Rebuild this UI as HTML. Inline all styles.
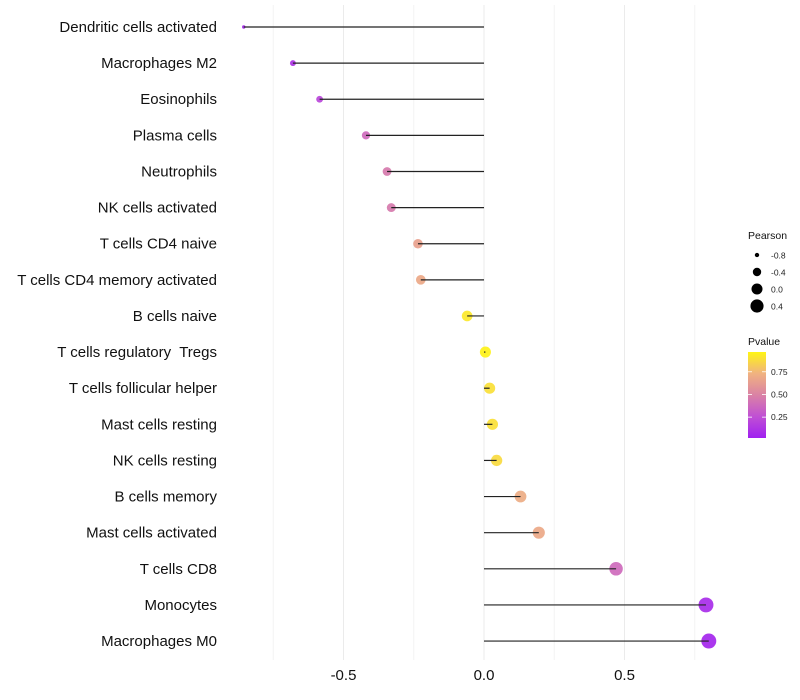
<!DOCTYPE html>
<html><head><meta charset="utf-8"><style>
body{margin:0;background:#fff;}
svg{display:block;font-family:"Liberation Sans",sans-serif;}
text{white-space:pre;}
</style></head><body>
<svg id="chart" width="800" height="700">
<g id="grid"></g>
<g id="marks"></g>
<g id="ylabels"></g>
<g id="xlabels"></g>
<g id="legend"></g>
</svg>
<script>
const categories=["Dendritic cells activated","Macrophages M2","Eosinophils","Plasma cells","Neutrophils","NK cells activated","T cells CD4 naive","T cells CD4 memory activated","B cells naive","T cells regulatory  Tregs","T cells follicular helper","Mast cells resting","NK cells resting","B cells memory","Mast cells activated","T cells CD8","Monocytes","Macrophages M0"];
const pearson=[-0.855,-0.68,-0.585,-0.42,-0.345,-0.33,-0.235,-0.225,-0.06,0.005,0.02,0.03,0.045,0.13,0.195,0.47,0.79,0.80];
const pvalue=[0.04,0.1,0.2,0.38,0.46,0.46,0.66,0.7,0.95,0.99,0.92,0.92,0.9,0.72,0.7,0.38,0.06,0.03];
const xTicks=[-0.5,0,0.5];
const xTickLabels=["-0.5","0.0","0.5"];
const sizeBreaks=[-0.8,-0.4,0.0,0.4];
const colorBreaks=[0.75,0.5,0.25];

const NS="http://www.w3.org/2000/svg";
const x=v=>484+v*281;
const y=i=>27+i*36.12;
const r=v=>Math.sqrt(Math.max(2.5,3+32*(v+0.855)));
const stops=[[0,[160,32,240]],[0.25,[192,80,212]],[0.5,[218,130,165]],[0.75,[240,178,128]],[1,[255,245,20]]];
function col(p){p=Math.max(0,Math.min(1,p));for(let k=0;k<stops.length-1;k++){const[a,ca]=stops[k],[b,cb]=stops[k+1];if(p<=b){const t=(p-a)/(b-a);return`rgb(${ca.map((c,j)=>Math.round(c+(cb[j]-c)*t)).join(',')})`;}}}
function mk(tag,attrs,parent){const e=document.createElementNS(NS,tag);for(const k in attrs)e.setAttribute(k,attrs[k]);document.getElementById(parent).appendChild(e);return e;}

[-0.75,-0.25,0.25,0.75].forEach(v=>{const e=mk('line',{x1:x(v),x2:x(v),y1:5,y2:660,stroke:'#f3f3f3','stroke-width':1},'grid');

});
xTicks.forEach((v,i)=>{const e=mk('line',{x1:x(v),x2:x(v),y1:5,y2:660,stroke:'#ebebeb','stroke-width':1},'grid');


const t=mk('text',{x:x(v),y:680,'text-anchor':'middle','font-size':15,fill:'#111'},'xlabels');t.textContent=xTickLabels[i];

});

categories.forEach((c,i)=>{
const t=mk('text',{x:217,y:y(i)+5,'text-anchor':'end','font-size':15,fill:'#111'},'ylabels');t.textContent=c;


const p=mk('circle',{cx:x(pearson[i]),cy:y(i),r:r(pearson[i]),fill:col(pvalue[i]),'fill-opacity':0.92},'marks');


const l=mk('line',{x1:x(0),x2:x(pearson[i]),y1:y(i),y2:y(i),stroke:'#222','stroke-width':1.2},'marks');

});

let t=mk('text',{x:748,y:239,'font-size':10.5,fill:'#111'},'legend');t.textContent='Pearson';


sizeBreaks.forEach((v,i)=>{const cy=255+i*17;
const c=mk('circle',{cx:757,cy:cy,r:r(v),fill:'#000'},'legend');


const tt=mk('text',{x:771,y:cy+3.5,'font-size':8.5,fill:'#222'},'legend');tt.textContent=v.toFixed(1);

});
t=mk('text',{x:748,y:345,'font-size':10.5,fill:'#111'},'legend');t.textContent='Pvalue';


const defs=mk('defs',{},'legend');const g=document.createElementNS(NS,'linearGradient');g.setAttribute('id','pg');g.setAttribute('x1','0');g.setAttribute('x2','0');g.setAttribute('y1','1');g.setAttribute('y2','0');defs.appendChild(g);
stops.forEach(([o,c])=>{const s=document.createElementNS(NS,'stop');s.setAttribute('offset',o);s.setAttribute('stop-color',`rgb(${c.join(',')})`);g.appendChild(s);});
const bar=mk('rect',{x:748,y:352,width:18,height:86,fill:'url(#pg)'},'legend');


colorBreaks.forEach(v=>{const cy=438-(v-0.02)*88/0.97;
mk('line',{x1:748,x2:752,y1:cy,y2:cy,stroke:'#fff','stroke-width':0.8},'legend');
mk('line',{x1:762,x2:766,y1:cy,y2:cy,stroke:'#fff','stroke-width':0.8},'legend');
const tt=mk('text',{x:771,y:cy+3,'font-size':8.5,fill:'#222'},'legend');tt.textContent=v.toFixed(2);

});
</script>
</body></html>
